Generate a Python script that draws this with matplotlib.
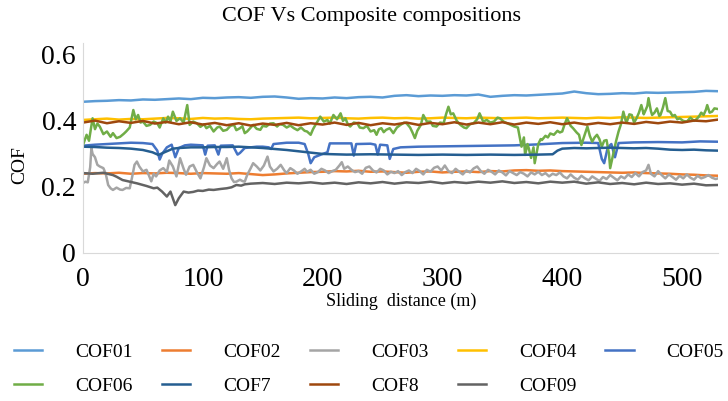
import matplotlib
matplotlib.use("Agg")
import matplotlib.pyplot as plt

plt.rcParams['font.family'] = ['Liberation Serif', 'DejaVu Serif']

# sliding distance grid (m) for the smoother series
d10 = list(range(0, 531, 10))

cof01 = [0.458, 0.460, 0.461, 0.463, 0.462, 0.465, 0.464, 0.466, 0.468, 0.466,
         0.470, 0.469, 0.471, 0.472, 0.470, 0.473, 0.474, 0.471, 0.467, 0.469,
         0.468, 0.471, 0.469, 0.472, 0.473, 0.471, 0.476, 0.478, 0.475, 0.477,
         0.476, 0.478, 0.477, 0.480, 0.473, 0.476, 0.478, 0.477, 0.479, 0.481,
         0.483, 0.489, 0.484, 0.481, 0.482, 0.484, 0.483, 0.486, 0.485, 0.486,
         0.487, 0.488, 0.491, 0.490]

cof02 = [0.240, 0.242, 0.241, 0.243, 0.240, 0.242, 0.241, 0.243, 0.242, 0.240,
         0.242, 0.241, 0.240, 0.242, 0.239, 0.236, 0.238, 0.241, 0.243, 0.245,
         0.246, 0.248, 0.247, 0.249, 0.246, 0.247, 0.245, 0.243, 0.246, 0.247,
         0.244, 0.246, 0.247, 0.245, 0.248, 0.247, 0.250, 0.251, 0.249, 0.250,
         0.248, 0.247, 0.246, 0.245, 0.244, 0.243, 0.244, 0.242, 0.241, 0.240,
         0.238, 0.237, 0.235, 0.234]

cof04 = [0.403, 0.405, 0.407, 0.404, 0.406, 0.405, 0.407, 0.409, 0.408, 0.406,
         0.409, 0.407, 0.408, 0.406, 0.405, 0.407, 0.408, 0.409, 0.410, 0.408,
         0.409, 0.410, 0.408, 0.407, 0.409, 0.410, 0.408, 0.409, 0.407, 0.408,
         0.410, 0.409, 0.408, 0.410, 0.409, 0.408, 0.409, 0.410, 0.408, 0.409,
         0.410, 0.409, 0.408, 0.410, 0.409, 0.411, 0.410, 0.409, 0.410, 0.411,
         0.412, 0.413, 0.414, 0.415]

cof8 = [0.395, 0.401, 0.393, 0.399, 0.394, 0.400, 0.392, 0.397, 0.390, 0.396,
        0.389, 0.394, 0.387, 0.393, 0.386, 0.392, 0.388, 0.394, 0.387, 0.393,
        0.389, 0.395, 0.388, 0.394, 0.387, 0.393, 0.389, 0.395, 0.388, 0.394,
        0.390, 0.396, 0.389, 0.395, 0.390, 0.396, 0.389, 0.395, 0.391, 0.396,
        0.390, 0.395, 0.389, 0.394, 0.390, 0.395, 0.391, 0.397, 0.393, 0.398,
        0.395, 0.401, 0.399, 0.404]

d09 = [0, 8, 17, 25, 28, 33, 39, 45, 50, 53, 59, 62, 66, 70, 73, 77, 80, 84, 88, 92,
       96, 100, 105, 109, 115, 120, 124, 128, 132, 135, 140, 150, 160, 170, 180, 190,
       200, 210, 220, 230, 240, 250, 260, 270, 280, 290, 300, 310, 320, 330, 340, 350,
       360, 370, 380, 390, 400, 410, 420, 430, 440, 450, 460, 470, 480, 490, 500, 510,
       520, 530]
cof09 = [0.242, 0.240, 0.243, 0.236, 0.231, 0.221, 0.216, 0.211, 0.206, 0.203, 0.196,
         0.198, 0.186, 0.171, 0.186, 0.145, 0.166, 0.186, 0.183, 0.185, 0.189, 0.188,
         0.192, 0.191, 0.194, 0.196, 0.199, 0.206, 0.204, 0.208, 0.210, 0.212, 0.209,
         0.213, 0.211, 0.214, 0.210, 0.213, 0.209, 0.214, 0.211, 0.215, 0.210, 0.214,
         0.212, 0.216, 0.211, 0.215, 0.212, 0.216, 0.213, 0.217, 0.212, 0.215, 0.211,
         0.216, 0.213, 0.216, 0.210, 0.214, 0.209, 0.212, 0.208, 0.213, 0.209, 0.211,
         0.207, 0.210, 0.205, 0.206]

d05 = [0, 10, 20, 30, 40, 50, 58, 62, 64, 66, 70, 74, 77, 80, 85, 90, 95, 100, 102, 104,
       110, 113, 115, 125, 129, 131, 135, 145, 150, 155, 157, 159, 170, 180, 185, 188,
       190, 193, 200, 204, 206, 215, 224, 226, 228, 240, 244, 246, 248, 254, 256, 259,
       265, 280, 300, 320, 340, 360, 380, 400, 420, 430, 433, 435, 438, 441, 444, 447,
       460, 480, 500, 515, 530]
cof05 = [0.325, 0.328, 0.330, 0.332, 0.334, 0.333, 0.330, 0.310, 0.283, 0.300, 0.320,
         0.328, 0.290, 0.318, 0.326, 0.328, 0.327, 0.326, 0.298, 0.325, 0.326, 0.298,
         0.325, 0.326, 0.298, 0.303, 0.318, 0.322, 0.322, 0.320, 0.315, 0.330, 0.334,
         0.334, 0.330, 0.300, 0.272, 0.290, 0.300, 0.305, 0.332, 0.332, 0.332, 0.295,
         0.330, 0.331, 0.328, 0.298, 0.328, 0.326, 0.285, 0.315, 0.320, 0.322, 0.323,
         0.324, 0.325, 0.326, 0.329, 0.333, 0.334, 0.333, 0.285, 0.272, 0.320, 0.330,
         0.290, 0.333, 0.335, 0.336, 0.335, 0.338, 0.337]

d7 = [0, 10, 20, 30, 40, 50, 58, 63, 68, 75, 80, 90, 100, 110, 120, 130, 140, 150, 160,
      170, 180, 190, 200, 210, 220, 240, 260, 280, 300, 320, 340, 360, 380, 392, 396,
      400, 410, 420, 430, 440, 450, 460, 470, 480, 490, 500, 510, 520, 530]
cof7 = [0.322, 0.321, 0.319, 0.318, 0.316, 0.312, 0.305, 0.297, 0.305, 0.316, 0.318,
        0.320, 0.320, 0.321, 0.321, 0.322, 0.320, 0.318, 0.315, 0.312, 0.308, 0.304,
        0.300, 0.299, 0.298, 0.299, 0.298, 0.297, 0.298, 0.297, 0.298, 0.297, 0.298,
        0.299, 0.310, 0.316, 0.318, 0.317, 0.318, 0.319, 0.318, 0.317, 0.318, 0.316,
        0.313, 0.312, 0.313, 0.311, 0.310]

d06 = [0, 3, 5, 8, 10, 12, 14, 17, 20, 23, 25, 28, 31, 34, 36, 39, 42, 44, 46, 48, 50,
       53, 56, 59, 62, 64, 67, 69, 71, 73, 75, 78, 81, 84, 87, 89, 92, 95, 98, 101, 103,
       106, 109, 112, 114, 117, 120, 123, 126, 128, 131, 133, 135, 137, 140, 142, 145,
       148, 150, 153, 156, 159, 162, 164, 167, 170, 173, 176, 179, 182, 185, 187, 190,
       192, 194, 196, 198, 201, 204, 206, 209, 212, 215, 217, 219, 221, 223, 226, 229,
       231, 234, 237, 240, 243, 245, 247, 249, 251, 253, 256, 259, 262, 265, 268, 270,
       273, 275, 277, 279, 282, 284, 287, 290, 292, 295, 298, 301, 303, 305, 307, 309,
       312, 315, 318, 320, 323, 326, 329, 331, 334, 337, 340, 343, 346, 348, 351, 354,
       357, 360, 363, 366, 368, 369, 371, 372, 374, 376, 377, 379, 380, 382, 383, 386,
       388, 390, 393, 396, 398, 400, 402, 404, 407, 409, 412, 414, 416, 418, 421, 423,
       425, 427, 429, 431, 433, 435, 437, 439, 440, 442, 443, 445, 447, 449, 451, 453,
       454, 456, 458, 460, 462, 464, 466, 468, 469, 471, 472, 474, 475, 477, 479, 481,
       482, 484, 486, 488, 490, 492, 494, 496, 498, 501, 504, 507, 510, 512, 514, 516,
       518, 520, 521, 523, 525, 527, 530]
cof06 = [0.327, 0.358, 0.340, 0.408, 0.375, 0.392, 0.383, 0.360, 0.368, 0.352, 0.363,
         0.348, 0.352, 0.361, 0.368, 0.380, 0.433, 0.405, 0.418, 0.395, 0.398, 0.385,
         0.388, 0.398, 0.393, 0.380, 0.408, 0.395, 0.413, 0.398, 0.428, 0.400, 0.408,
         0.395, 0.448, 0.388, 0.398, 0.393, 0.382, 0.390, 0.378, 0.385, 0.368, 0.380,
         0.383, 0.370, 0.373, 0.385, 0.388, 0.372, 0.378, 0.384, 0.363, 0.368, 0.380,
         0.388, 0.376, 0.373, 0.385, 0.383, 0.392, 0.393, 0.383, 0.390, 0.388, 0.380,
         0.386, 0.378, 0.372, 0.380, 0.370, 0.368, 0.358, 0.375, 0.388, 0.400, 0.413,
         0.398, 0.403, 0.392, 0.418, 0.405, 0.423, 0.400, 0.408, 0.390, 0.383, 0.395,
         0.393, 0.380, 0.378, 0.385, 0.368, 0.372, 0.358, 0.375, 0.378, 0.366, 0.373,
         0.378, 0.363, 0.380, 0.388, 0.395, 0.393, 0.380, 0.365, 0.348, 0.370, 0.388,
         0.418, 0.398, 0.398, 0.385, 0.383, 0.395, 0.393, 0.420, 0.443, 0.420, 0.423,
         0.400, 0.388, 0.380, 0.378, 0.390, 0.393, 0.405, 0.423, 0.398, 0.403, 0.395,
         0.398, 0.410, 0.408, 0.398, 0.393, 0.388, 0.383, 0.380, 0.322, 0.350, 0.297,
         0.330, 0.318, 0.288, 0.320, 0.272, 0.310, 0.330, 0.345, 0.342, 0.355, 0.350,
         0.362, 0.358, 0.370, 0.365, 0.368, 0.390, 0.408, 0.385, 0.378, 0.365, 0.358,
         0.327, 0.350, 0.383, 0.355, 0.337, 0.350, 0.358, 0.345, 0.322, 0.340, 0.342,
         0.300, 0.257, 0.290, 0.307, 0.340, 0.368, 0.390, 0.428, 0.400, 0.398, 0.420,
         0.418, 0.395, 0.408, 0.425, 0.448, 0.420, 0.428, 0.445, 0.469, 0.430, 0.418,
         0.425, 0.438, 0.415, 0.418, 0.440, 0.469, 0.430, 0.428, 0.415, 0.418, 0.405,
         0.408, 0.400, 0.398, 0.410, 0.400, 0.405, 0.413, 0.425, 0.418, 0.435, 0.448,
         0.425, 0.428, 0.438, 0.436]

d03 = [0, 2, 4, 6, 7, 8, 10, 12, 14, 17, 19, 21, 23, 25, 28, 31, 33, 36, 39, 41, 43, 45,
       47, 50, 53, 55, 57, 59, 61, 64, 67, 70, 72, 75, 78, 81, 84, 86, 89, 92, 95, 98,
       101, 103, 106, 109, 112, 114, 117, 120, 122, 124, 126, 128, 131, 133, 135, 137,
       140, 142, 145, 148, 151, 154, 156, 159, 162, 165, 168, 170, 173, 176, 179, 182,
       185, 187, 190, 193, 196, 199, 202, 205, 208, 211, 214, 216, 218, 221, 224, 227,
       230, 233, 236, 239, 242, 245, 248, 251, 254, 257, 260, 263, 266, 269, 272, 275,
       278, 281, 284, 287, 290, 293, 296, 299, 302, 305, 308, 311, 314, 317, 320, 323,
       326, 329, 332, 335, 338, 341, 344, 347, 350, 353, 356, 359, 362, 365, 368, 371,
       374, 377, 380, 383, 386, 389, 392, 395, 398, 401, 404, 407, 410, 413, 416, 419,
       422, 425, 428, 431, 434, 437, 440, 443, 446, 449, 452, 455, 458, 461, 464, 467,
       470, 472, 474, 477, 480, 483, 486, 489, 492, 495, 498, 501, 504, 507, 510, 513,
       516, 519, 522, 525, 528, 530]
cof03 = [0.212, 0.216, 0.214, 0.260, 0.318, 0.300, 0.290, 0.267, 0.262, 0.257, 0.240,
         0.206, 0.196, 0.191, 0.198, 0.192, 0.191, 0.197, 0.196, 0.230, 0.267, 0.277,
         0.262, 0.247, 0.252, 0.235, 0.217, 0.240, 0.232, 0.250, 0.257, 0.245, 0.280,
         0.262, 0.232, 0.287, 0.255, 0.237, 0.262, 0.267, 0.245, 0.226, 0.260, 0.287,
         0.265, 0.257, 0.270, 0.277, 0.255, 0.287, 0.250, 0.226, 0.215, 0.216, 0.222,
         0.218, 0.216, 0.236, 0.257, 0.272, 0.262, 0.250, 0.265, 0.292, 0.262, 0.247,
         0.255, 0.267, 0.250, 0.242, 0.257, 0.250, 0.240, 0.247, 0.255, 0.246, 0.252,
         0.240, 0.245, 0.255, 0.250, 0.242, 0.248, 0.252, 0.265, 0.275, 0.255, 0.262,
         0.252, 0.245, 0.248, 0.240, 0.258, 0.262, 0.250, 0.244, 0.255, 0.250, 0.238,
         0.246, 0.242, 0.248, 0.236, 0.245, 0.250, 0.242, 0.255, 0.248, 0.238, 0.252,
         0.246, 0.258, 0.262, 0.250, 0.265, 0.248, 0.242, 0.255, 0.246, 0.238, 0.250,
         0.244, 0.256, 0.262, 0.248, 0.240, 0.252, 0.246, 0.238, 0.250, 0.244, 0.235,
         0.248, 0.242, 0.236, 0.245, 0.240, 0.232, 0.244, 0.238, 0.246, 0.236, 0.242,
         0.232, 0.240, 0.236, 0.244, 0.232, 0.226, 0.238, 0.228, 0.222, 0.234, 0.226,
         0.220, 0.232, 0.225, 0.218, 0.230, 0.224, 0.236, 0.228, 0.220, 0.232, 0.226,
         0.238, 0.230, 0.242, 0.232, 0.245, 0.250, 0.267, 0.240, 0.232, 0.248, 0.236,
         0.226, 0.238, 0.230, 0.222, 0.234, 0.226, 0.238, 0.228, 0.222, 0.234, 0.226,
         0.230, 0.236, 0.228, 0.224, 0.226]

labels = ['COF01', 'COF02', 'COF03', 'COF04', 'COF05', 'COF06', 'COF7', 'COF8', 'COF09']
colors = ['#5B9BD5', '#ED7D31', '#A5A5A5', '#FFC000', '#4472C4',
          '#70AD47', '#255E91', '#9E480E', '#636363']
xs = [d10, d10, d03, d10, d05, d06, d7, d10, d09]
ys = [cof01, cof02, cof03, cof04, cof05, cof06, cof7, cof8, cof09]

fig = plt.figure(figsize=(7.28, 4.01), dpi=100)
ax = fig.add_axes([83 / 728, 1 - 253 / 401, 635 / 728, 210 / 401])

handles = []
for x, y, c, lab in zip(xs, ys, colors, labels):
    h, = ax.plot(x, y, color=c, lw=1.8, label=lab)
    handles.append(h)

ax.set_xlim(0, 530)
ax.set_ylim(0, 0.636)
ax.set_xticks([0, 100, 200, 300, 400, 500])
ax.set_yticks([0, 0.2, 0.4, 0.6])
ax.set_yticklabels(['0', '0.2', '0.4', '0.6'])
ax.tick_params(length=0, labelsize=20)
ax.tick_params(axis='x', pad=10)
ax.tick_params(axis='y', pad=5)
for s in ['top', 'right']:
    ax.spines[s].set_visible(False)
for s in ['left', 'bottom']:
    ax.spines[s].set_color('#d9d9d9')

fig.text(371 / 728, 1 - 17 / 401, 'COF Vs Composite compositions', fontsize=16,
         ha='center', va='center')
fig.text(401 / 728, 1 - 301 / 401, 'Sliding  distance (m)', fontsize=13,
         ha='center', va='center')
fig.text(20 / 728, 1 - 165 / 401, 'COF', fontsize=14, rotation=90,
         ha='center', va='center')

# legend filled row by row (matplotlib fills columns first)
order = [0, 5, 1, 6, 2, 7, 3, 8, 4]
fig.legend([handles[i] for i in order], [labels[i] for i in order],
           loc='upper left', bbox_to_anchor=(14 / 728, 1 - 343 / 401), ncol=5,
           frameon=False, fontsize=14, handlelength=1.45, handletextpad=1.7,
           columnspacing=1.5, labelspacing=0.85, borderpad=0, borderaxespad=0)

fig.savefig('out.png', dpi=100)
